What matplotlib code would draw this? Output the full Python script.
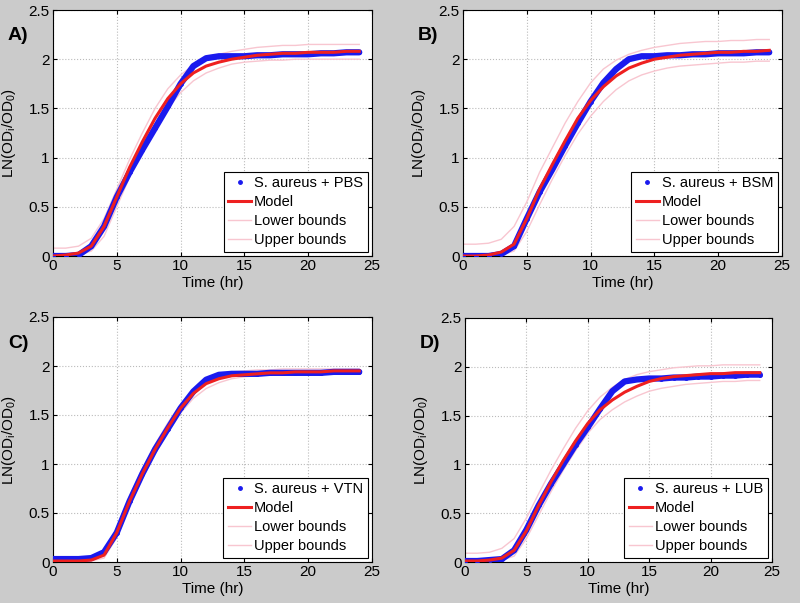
import numpy as np
import matplotlib
matplotlib.use('Agg')
import matplotlib.pyplot as plt

# time axis (hours), shared by all panels
t = [0, 1, 2, 3, 4, 5, 6, 7, 8, 9, 10, 11, 12, 13, 14, 15, 16, 17, 18, 19, 20, 21, 22, 23, 24]

# panel A - PBS
a_data = [0, 0, 0.01, 0.1, 0.3, 0.6, 0.85, 1.08, 1.3, 1.52, 1.75, 1.93, 2.01, 2.03, 2.03, 2.03, 2.04, 2.04, 2.05, 2.05, 2.05, 2.06, 2.06, 2.07, 2.07]
a_model = [0, 0.01, 0.03, 0.1, 0.3, 0.6, 0.9, 1.16, 1.4, 1.6, 1.75, 1.86, 1.93, 1.97, 2.0, 2.02, 2.04, 2.05, 2.06, 2.06, 2.07, 2.07, 2.07, 2.08, 2.08]
a_upper = [0.08, 0.08, 0.1, 0.18, 0.38, 0.68, 0.98, 1.25, 1.5, 1.7, 1.84, 1.94, 2.01, 2.05, 2.08, 2.1, 2.12, 2.13, 2.14, 2.14, 2.15, 2.15, 2.15, 2.15, 2.15]
a_lower = [0, 0, 0.01, 0.05, 0.2, 0.5, 0.8, 1.07, 1.3, 1.5, 1.66, 1.78, 1.86, 1.91, 1.95, 1.97, 1.98, 1.99, 1.99, 2.0, 2.0, 2.0, 2.0, 2.0, 2.0]

# panel B - BSM
b_data = [0, 0, 0, 0.02, 0.1, 0.38, 0.65, 0.88, 1.12, 1.35, 1.57, 1.76, 1.9, 2.0, 2.03, 2.03, 2.04, 2.04, 2.05, 2.05, 2.06, 2.06, 2.06, 2.07, 2.07]
b_model = [0, 0, 0.01, 0.04, 0.12, 0.38, 0.68, 0.93, 1.17, 1.4, 1.58, 1.72, 1.83, 1.91, 1.96, 2.0, 2.02, 2.04, 2.05, 2.06, 2.07, 2.07, 2.08, 2.08, 2.09]
b_upper = [0.12, 0.12, 0.13, 0.17, 0.3, 0.55, 0.85, 1.1, 1.35, 1.57, 1.76, 1.9, 1.99, 2.05, 2.09, 2.12, 2.14, 2.16, 2.17, 2.18, 2.18, 2.19, 2.19, 2.2, 2.2]
b_lower = [0, 0, 0, 0.01, 0.05, 0.25, 0.52, 0.78, 1.02, 1.24, 1.42, 1.57, 1.69, 1.78, 1.84, 1.88, 1.91, 1.93, 1.94, 1.95, 1.96, 1.97, 1.97, 1.98, 1.98]

# panel C - VTN
c_data = [0.03, 0.03, 0.03, 0.04, 0.1, 0.3, 0.62, 0.9, 1.15, 1.36, 1.57, 1.74, 1.86, 1.91, 1.92, 1.92, 1.92, 1.93, 1.93, 1.93, 1.93, 1.93, 1.94, 1.94, 1.94]
c_model = [0.01, 0.01, 0.01, 0.02, 0.07, 0.3, 0.62, 0.9, 1.15, 1.37, 1.57, 1.72, 1.82, 1.87, 1.9, 1.91, 1.92, 1.93, 1.93, 1.94, 1.94, 1.94, 1.95, 1.95, 1.95]
c_upper = [0.03, 0.03, 0.03, 0.04, 0.1, 0.35, 0.67, 0.95, 1.2, 1.42, 1.61, 1.76, 1.86, 1.91, 1.94, 1.95, 1.96, 1.96, 1.97, 1.97, 1.97, 1.97, 1.97, 1.97, 1.97]
c_lower = [0, 0, 0, 0.01, 0.04, 0.25, 0.57, 0.85, 1.1, 1.32, 1.52, 1.67, 1.77, 1.83, 1.87, 1.89, 1.9, 1.91, 1.91, 1.92, 1.92, 1.92, 1.92, 1.92, 1.92]

# panel D - LUB
d_data = [0.01, 0.01, 0.02, 0.03, 0.12, 0.33, 0.58, 0.8, 1.0, 1.2, 1.38, 1.57, 1.75, 1.85, 1.87, 1.88, 1.88, 1.89, 1.89, 1.9, 1.9, 1.91, 1.91, 1.92, 1.92]
d_model = [0.01, 0.01, 0.02, 0.04, 0.12, 0.32, 0.58, 0.82, 1.04, 1.24, 1.42, 1.56, 1.66, 1.74, 1.8, 1.85, 1.88, 1.9, 1.91, 1.92, 1.93, 1.93, 1.94, 1.94, 1.94]
d_upper = [0.09, 0.09, 0.1, 0.14, 0.24, 0.45, 0.7, 0.94, 1.16, 1.37, 1.55, 1.69, 1.79, 1.87, 1.92, 1.95, 1.97, 1.99, 2.0, 2.01, 2.01, 2.02, 2.02, 2.02, 2.02]
d_lower = [0, 0, 0.01, 0.02, 0.06, 0.24, 0.48, 0.72, 0.94, 1.14, 1.32, 1.46, 1.56, 1.64, 1.7, 1.75, 1.78, 1.8, 1.82, 1.83, 1.84, 1.85, 1.85, 1.86, 1.86]

panels = [
    ('A)', 'S. aureus + PBS', a_data, a_model, a_upper, a_lower, [53, 372, 10, 256]),
    ('B)', 'S. aureus + BSM', b_data, b_model, b_upper, b_lower, [463, 782, 10, 256]),
    ('C)', 'S. aureus + VTN', c_data, c_model, c_upper, c_lower, [53, 372, 317, 562]),
    ('D)', 'S. aureus + LUB', d_data, d_model, d_upper, d_lower, [465, 772, 318, 562]),
]

W, H = 800, 603
fig = plt.figure(figsize=(W / 100, H / 100), dpi=100)
fig.patch.set_facecolor('#cbcbcb')
plt.rcParams['font.family'] = ['Liberation Sans', 'DejaVu Sans']
plt.rcParams['mathtext.fontset'] = 'custom'
plt.rcParams['mathtext.rm'] = 'Liberation Sans'
plt.rcParams['mathtext.it'] = 'Liberation Sans'

for tag, lab, dat, mod, up, lo, box in panels:
    x0, x1, y0, y1 = box
    ax = fig.add_axes([x0 / W, 1 - y1 / H, (x1 - x0) / W, (y1 - y0) / H])
    ax.set_facecolor('white')
    ax.plot(t, dat, color='#1a1aee', lw=4.5, solid_capstyle='round', zorder=3)
    ax.plot(t, dat, '.', color='#1a1aee', ms=5, label=lab, zorder=3)
    ax.plot(t, mod, color='#ee2020', lw=2.2, label='Model', zorder=4)
    ax.plot(t, lo, color='#f8c6d0', lw=1, label='Lower bounds', zorder=2)
    ax.plot(t, up, color='#f8c6d0', lw=1, label='Upper bounds', zorder=2)
    ax.set_xlim(0, 25)
    ax.set_ylim(0, 2.5)
    ax.set_xticks([0, 5, 10, 15, 20, 25])
    ax.set_yticks([0, 0.5, 1, 1.5, 2, 2.5])
    ax.set_yticklabels(['0', '0.5', '1', '1.5', '2', '2.5'])
    ax.grid(True, color='#bbbbbb', ls=':', lw=0.8)
    ax.tick_params(direction='in', top=True, right=True, labelsize=11, length=3, pad=2.5)
    for s in ax.spines.values():
        s.set_linewidth(0.8)
    ax.set_xlabel('Time (hr)', fontsize=11, labelpad=2)
    ax.set_ylabel(r'LN(OD$_i$/OD$_0$)', fontsize=11)
    ax.yaxis.set_label_coords(-35 / (x1 - x0), 0.5)
    leg = ax.legend(loc='lower right', fontsize=10.5, handlelength=1.6, handletextpad=0.2,
                    borderaxespad=0.3, fancybox=False, framealpha=1, borderpad=0.3,
                    labelspacing=0.35)
    leg.get_frame().set_edgecolor('black')
    leg.get_frame().set_linewidth(0.8)
    fig.text((x0 - 45) / W, 1 - (y0 + 26) / H, tag, fontsize=14, fontweight='bold', va='center')

fig.savefig('out.png', dpi=100, facecolor=fig.get_facecolor())
